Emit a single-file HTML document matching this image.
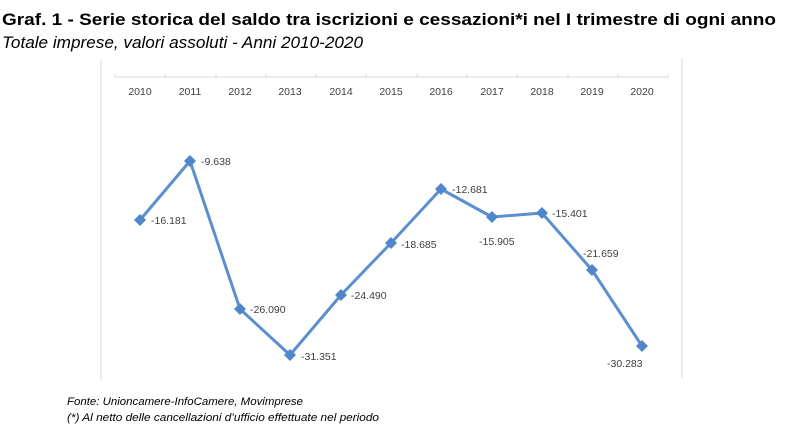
<!DOCTYPE html>
<html><head><meta charset="utf-8"><style>
html,body{margin:0;padding:0;background:#fff;}
svg{display:block;}
</style></head><body>
<svg width="800" height="445" viewBox="0 0 800 445" xmlns="http://www.w3.org/2000/svg" font-family="Liberation Sans, sans-serif">
<text x="2" y="25" font-size="17" font-weight="bold" fill="#000" textLength="774" lengthAdjust="spacingAndGlyphs">Graf. 1 - Serie storica del saldo tra iscrizioni e cessazioni*i nel I trimestre di ogni anno</text>
<text x="2" y="48" font-size="17" font-style="italic" fill="#000" textLength="361" lengthAdjust="spacingAndGlyphs">Totale imprese, valori assoluti - Anni 2010-2020</text>
<line x1="101" y1="60" x2="101" y2="380" stroke="#d9d9d9" stroke-width="1"/>
<line x1="682" y1="58" x2="682" y2="378" stroke="#d9d9d9" stroke-width="1"/>
<line x1="115" y1="77" x2="668" y2="77" stroke="#d9d9d9" stroke-width="1"/>
<g stroke="#d9d9d9">
<line x1="115" y1="74" x2="115" y2="77"/><line x1="165" y1="74" x2="165" y2="77"/><line x1="216" y1="74" x2="216" y2="77"/><line x1="266" y1="74" x2="266" y2="77"/><line x1="316" y1="74" x2="316" y2="77"/><line x1="366" y1="74" x2="366" y2="77"/><line x1="417" y1="74" x2="417" y2="77"/><line x1="467" y1="74" x2="467" y2="77"/><line x1="517" y1="74" x2="517" y2="77"/><line x1="568" y1="74" x2="568" y2="77"/><line x1="618" y1="74" x2="618" y2="77"/><line x1="668" y1="74" x2="668" y2="77"/>
</g>
<g font-size="10.5" fill="#404040" text-anchor="middle">
<text x="140" y="95">2010</text><text x="190" y="95">2011</text><text x="240" y="95">2012</text><text x="290" y="95">2013</text><text x="341" y="95">2014</text><text x="391" y="95">2015</text><text x="441" y="95">2016</text><text x="492" y="95">2017</text><text x="542" y="95">2018</text><text x="592" y="95">2019</text><text x="642" y="95">2020</text>
</g>
<polyline points="140,220 190,161 240,309 290,355 341,295 391,243 441,189 492,217 542,213 592,270 642,346" fill="none" stroke="#5b8fcf" stroke-width="3" stroke-linejoin="round"/>
<g fill="#4f86cc">
<path d="M140,214 l6,6 l-6,6 l-6,-6z"/><path d="M190,155 l6,6 l-6,6 l-6,-6z"/><path d="M240,303 l6,6 l-6,6 l-6,-6z"/><path d="M290,349 l6,6 l-6,6 l-6,-6z"/><path d="M341,289 l6,6 l-6,6 l-6,-6z"/><path d="M391,237 l6,6 l-6,6 l-6,-6z"/><path d="M441,183 l6,6 l-6,6 l-6,-6z"/><path d="M492,211 l6,6 l-6,6 l-6,-6z"/><path d="M542,207 l6,6 l-6,6 l-6,-6z"/><path d="M592,264 l6,6 l-6,6 l-6,-6z"/><path d="M642,340 l6,6 l-6,6 l-6,-6z"/>
</g>
<g font-size="10.5" fill="#404040">
<text x="151" y="224">-16.181</text>
<text x="201" y="165">-9.638</text>
<text x="250" y="313">-26.090</text>
<text x="301" y="360">-31.351</text>
<text x="351" y="299">-24.490</text>
<text x="401" y="248">-18.685</text>
<text x="452" y="193">-12.681</text>
<text x="479" y="245">-15.905</text>
<text x="552" y="217">-15.401</text>
<text x="583" y="257">-21.659</text>
<text x="607" y="367">-30.283</text>
</g>
<text x="67" y="405" font-size="11" font-style="italic" fill="#000" textLength="236" lengthAdjust="spacingAndGlyphs">Fonte: Unioncamere-InfoCamere, Movimprese</text>
<text x="67" y="421" font-size="11" font-style="italic" fill="#000" textLength="312" lengthAdjust="spacingAndGlyphs">(*) Al netto delle cancellazioni d’ufficio effettuate nel periodo</text>
</svg>
</body></html>
